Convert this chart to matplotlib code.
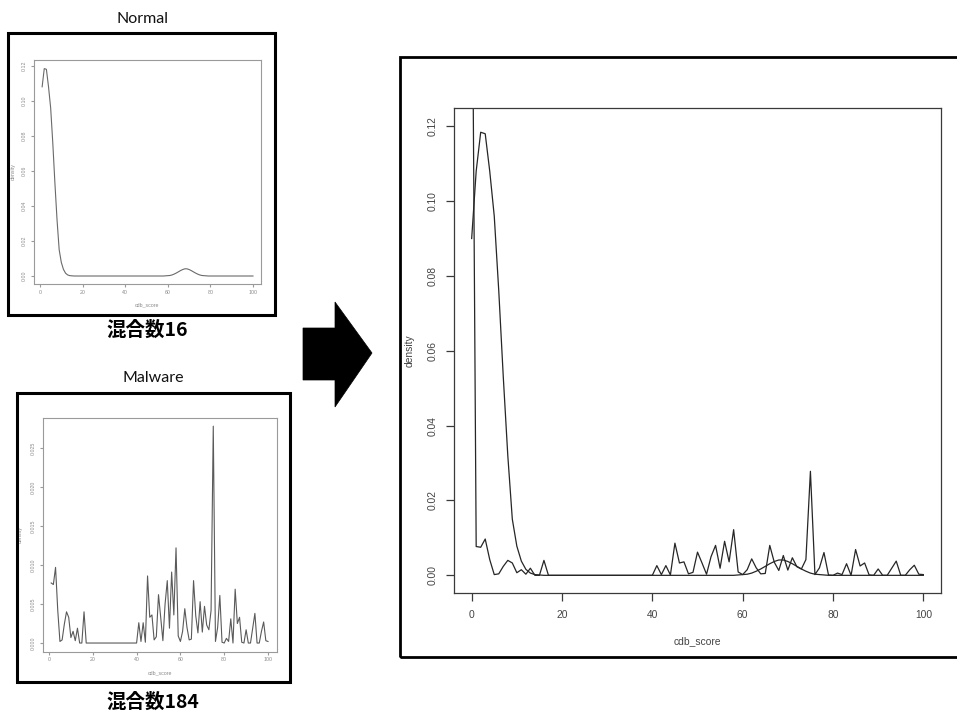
import matplotlib
matplotlib.use("Agg")
import matplotlib.pyplot as plt
from matplotlib.patches import Polygon, Rectangle

# ---------------- data ----------------
# Mixture density of the "Normal" class (score -> density); flat zero stretches
# are represented by their end points only.
normal_score = [0, 1, 2, 3, 4, 5, 6, 7, 8, 9, 10, 11, 12, 13, 14, 15, 16,
                58, 59, 60, 61, 62, 63, 64, 65, 66, 67, 68, 69, 70, 71, 72,
                73, 74, 75, 76, 77, 78, 79, 80, 100]
normal_density = [0.090, 0.108, 0.1184, 0.118, 0.108, 0.096, 0.076, 0.053,
                  0.032, 0.015, 0.0078, 0.0038, 0.0016, 0.0006, 0.0002,
                  0.0001, 0.0,
                  0.0, 0.0001, 0.0002, 0.0003, 0.0006, 0.0011, 0.0017,
                  0.0024, 0.0031, 0.0037, 0.0041, 0.0041, 0.0037, 0.0031,
                  0.0024, 0.0017, 0.0011, 0.0006, 0.0003, 0.0002, 0.0001,
                  0.0, 0.0, 0.0]

# Mixture density of the "Malware" class, evaluated at every integer score 0..100
malware_score = list(range(0, 101))
malware_density = [
    0.19,
    0.0077, 0.0075, 0.0097, 0.0042, 0.0002, 0.0004, 0.0024, 0.0040, 0.0033, 0.0007,
    0.0015, 0.0003, 0.0019, 0.0, 0.0, 0.0040, 0.0, 0.0, 0.0, 0.0,
    0.0, 0.0, 0.0, 0.0, 0.0, 0.0, 0.0, 0.0, 0.0, 0.0,
    0.0, 0.0, 0.0, 0.0, 0.0, 0.0, 0.0, 0.0, 0.0, 0.0,
    0.0026, 0.0002, 0.0026, 0.0001, 0.0086, 0.0033, 0.0036, 0.0004, 0.0008, 0.0062,
    0.0033, 0.0003, 0.0050, 0.0080, 0.0019, 0.0091, 0.0036, 0.0122, 0.0009, 0.0002,
    0.0015, 0.0044, 0.0020, 0.0004, 0.0005, 0.0080, 0.0035, 0.0013, 0.0053, 0.0014,
    0.0047, 0.0023, 0.0017, 0.0042, 0.0278, 0.0002, 0.0020, 0.0061, 0.0001, 0.0,
    0.0006, 0.0002, 0.0031, 0.0, 0.0069, 0.0025, 0.0033, 0.0001, 0.0, 0.0017,
    0.0, 0.0, 0.0019, 0.0038, 0.0, 0.0, 0.0015, 0.0027, 0.0003, 0.0002,
]

x_ticks = [0, 20, 40, 60, 80, 100]
normal_y_ticks = [0.00, 0.02, 0.04, 0.06, 0.08, 0.10, 0.12]
malware_y_ticks = [0.000, 0.005, 0.010, 0.015, 0.020, 0.025]
combined_y_ticks = [0.00, 0.02, 0.04, 0.06, 0.08, 0.10, 0.12]

panel_titles = ["Normal", "Malware"]
panel_captions = ["混合数16", "混合数184"]

# ---------------- layout helpers (pixel based) ----------------
W, H = 957, 713
fig = plt.figure(figsize=(W / 100, H / 100), dpi=100)


def axes_px(l, t, r, b):
    return fig.add_axes([l / W, 1 - b / H, (r - l) / W, (b - t) / H])


def frame_px(l, t, r, b, lw):
    fig.add_artist(Rectangle((l / W, 1 - b / H), (r - l) / W, (b - t) / H,
                             transform=fig.transFigure, fill=False,
                             ec="black", lw=lw, zorder=10))


def text_px(x, y, s, **kw):
    fig.text(x / W, 1 - y / H, s, ha="center", va="center", **kw)


def r_limits(values, lo=None, hi=None):
    a = min(values) if lo is None else lo
    b = max(values) if hi is None else hi
    ext = (b - a) * 0.04
    return a - ext, b + ext


def r_style(ax, fs, col, spine_col, tick_len, xpad, ypad, lw):
    for s in ax.spines.values():
        s.set_color(spine_col)
        s.set_linewidth(lw)
    ax.tick_params(axis="both", direction="out", length=tick_len, width=lw,
                   color=spine_col, labelsize=fs, labelcolor=col)
    ax.tick_params(axis="x", pad=xpad)
    ax.tick_params(axis="y", pad=ypad, labelrotation=90)
    for lbl in ax.get_yticklabels():
        lbl.set_va("center")
        lbl.set_ha("right")
    for lbl in ax.get_xticklabels() + ax.get_yticklabels():
        lbl.set_family("Liberation Sans")


# ---------------- small panel: Normal ----------------
ax_n = axes_px(33.7, 60.3, 261.4, 284.3)
ax_n.plot(normal_score[1:], normal_density[1:], color="#6a6a6a", lw=0.8)
ax_n.set_xlim(*r_limits(normal_score[1:]))
ax_n.set_ylim(*r_limits(normal_density[1:]))
ax_n.set_xticks(x_ticks)
ax_n.set_xticklabels([str(v) for v in x_ticks])
ax_n.set_yticks(normal_y_ticks)
ax_n.set_yticklabels([f"{v:.2f}" for v in normal_y_ticks])
r_style(ax_n, 3.8, "#8a8a8a", "#9a9a9a", 2.4, 1.6, 2.6, 0.8)
text_px(13, 172, "density", fontsize=3.8, color="#8a8a8a", rotation=90,
        family="Liberation Sans")
text_px(147, 305, "cdb_score", fontsize=3.8, color="#8a8a8a",
        family="Liberation Sans")

# ---------------- small panel: Malware ----------------
ax_m = axes_px(42.5, 417.5, 276.7, 651.7)
ax_m.plot(malware_score[1:], malware_density[1:], color="#5a5a5a", lw=0.8)
ax_m.set_xlim(*r_limits(malware_score[1:]))
ax_m.set_ylim(*r_limits(malware_density[1:]))
ax_m.set_xticks(x_ticks)
ax_m.set_xticklabels([str(v) for v in x_ticks])
ax_m.set_yticks(malware_y_ticks)
ax_m.set_yticklabels([f"{v:.3f}" for v in malware_y_ticks])
r_style(ax_m, 3.8, "#8a8a8a", "#9a9a9a", 2.4, 1.6, 2.2, 0.8)
text_px(20, 535, "density", fontsize=3.8, color="#8a8a8a", rotation=90,
        family="Liberation Sans")
text_px(160, 673, "cdb_score", fontsize=3.8, color="#8a8a8a",
        family="Liberation Sans")

# ---------------- combined panel ----------------
ax_c = axes_px(453.6, 108.3, 941.4, 593.3)
ax_c.plot(normal_score, normal_density, color="#262626", lw=0.9)
ax_c.plot(malware_score, malware_density, color="#262626", lw=0.9)
ax_c.set_xlim(*r_limits(malware_score))
ax_c.set_ylim(*r_limits([0.0], lo=0.0, hi=0.12))
ax_c.set_xticks(x_ticks)
ax_c.set_xticklabels([str(v) for v in x_ticks])
ax_c.set_yticks(combined_y_ticks)
ax_c.set_yticklabels([f"{v:.2f}" for v in combined_y_ticks])
r_style(ax_c, 7.4, "#444444", "#3a3a3a", 6.0, 6.0, 5.4, 0.9)
text_px(410, 351, "density", fontsize=7.4, color="#444444", rotation=90,
        family="Liberation Sans")
text_px(697, 641, "cdb_score", fontsize=7.4, color="#444444",
        family="Liberation Sans")

# ---------------- frames, titles, captions ----------------
frame_px(8, 33, 275, 315, 2.2)
frame_px(17, 393, 290, 682, 2.2)
frame_px(400, 57, 962, 657, 2.0)

text_px(142, 19, panel_titles[0], fontsize=11.5, family="Lato", color="#111111")
text_px(153, 378, panel_titles[1], fontsize=11.5, family="Lato", color="#111111")
text_px(147, 330, panel_captions[0], fontsize=14,
        family=["Noto Sans CJK JP", "DejaVu Sans"], fontweight="bold")
text_px(153, 702, panel_captions[1], fontsize=14,
        family=["Noto Sans CJK JP", "DejaVu Sans"], fontweight="bold")

# ---------------- arrow ----------------
arrow_px = [(303, 328), (335, 328), (335, 302), (372, 353),
            (335, 407), (335, 380), (303, 380)]
fig.add_artist(Polygon([(x / W, 1 - y / H) for x, y in arrow_px], closed=True,
                       transform=fig.transFigure, fc="black", ec="black",
                       lw=0.5))

fig.savefig("out.png", dpi=100)
